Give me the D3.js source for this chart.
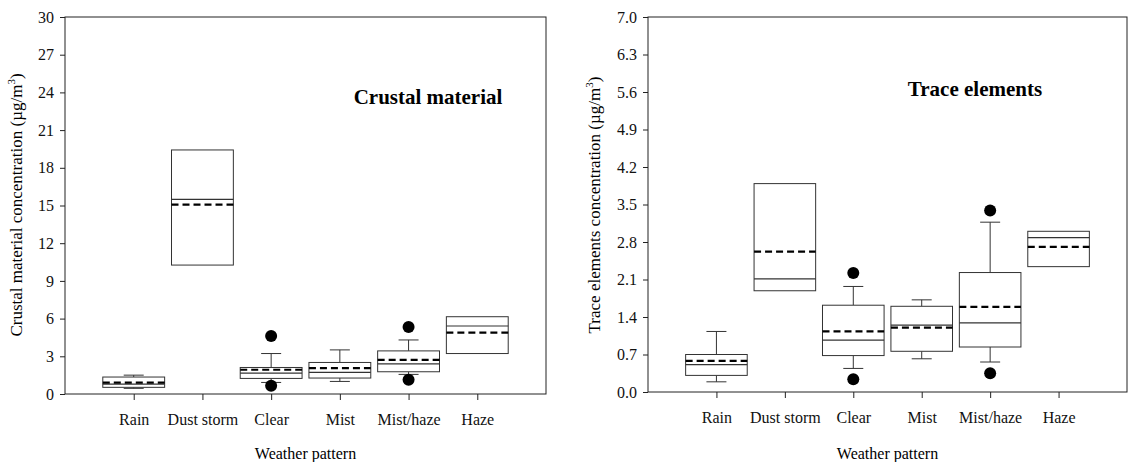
<!DOCTYPE html>
<html lang="en">
<meta charset="utf-8">
<style>
  body { margin: 0; background: #fff; }
  svg { display: block; font-family: "Liberation Serif", "Times New Roman", serif; }
  .frame { fill: none; stroke: #222; stroke-width: 1px; }
  .box { fill: #fff; stroke: #333; stroke-width: 1px; }
  .whisker { stroke: #333; stroke-width: 1px; }
  .median { stroke: #333; stroke-width: 1.2px; }
  .mean { stroke: #000; stroke-width: 2.2px; stroke-dasharray: 7,4; }
  .tick text { font-family: "Liberation Serif", "Times New Roman", serif; font-size: 16px; fill: #111; }
  .tick line { stroke: #222; }
</style>
<script src="https://d3js.org/d3.v7.min.js"></script>
<body>
<div id="chart"></div>
<script>
// weather patterns (x categories)
const categories = ["Rain", "Dust storm", "Clear", "Mist", "Mist/haze", "Haze"]

// crustal material, µg/m3 (null = no whisker drawn)
const crustalWhiskerLow  = [0.45, null, 0.92, 1.00, 1.56, null]
const crustalQ1          = [0.53, 10.26, 1.24, 1.27, 1.77, 3.22]
const crustalMedian      = [0.78, 15.49, 1.66, 1.72, 2.40, 5.41]
const crustalQ3          = [1.35, 19.42, 2.11, 2.51, 3.43, 6.15]
const crustalWhiskerHigh = [1.50, null, 3.22, 3.51, 4.30, null]
const crustalMean        = [0.90, 15.07, 1.93, 2.06, 2.72, 4.88]
const crustalOutliers    = [[], [], [4.62, 0.66], [], [5.33, 1.13], []]
const crustalTicks       = [0, 3, 6, 9, 12, 15, 18, 21, 24, 27, 30]

// trace elements, µg/m3
const traceWhiskerLow  = [0.19, null, 0.44, 0.62, 0.56, null]
const traceQ1          = [0.31, 1.89, 0.68, 0.76, 0.84, 2.34]
const traceMedian      = [0.51, 2.11, 0.97, 1.25, 1.29, 2.88]
const traceQ3          = [0.70, 3.89, 1.62, 1.60, 2.23, 3.00]
const traceWhiskerHigh = [1.13, null, 1.97, 1.72, 3.17, null]
const traceMean        = [0.58, 2.62, 1.13, 1.20, 1.59, 2.71]
const traceOutliers    = [[], [], [2.22, 0.24], [], [3.39, 0.35], []]
const traceTicks       = [0, 0.7, 1.4, 2.1, 2.8, 3.5, 4.2, 4.9, 5.6, 6.3, 7.0]

const WIDTH = 1129
const HEIGHT = 462

const svg = d3.select("#chart").append("svg")
  .attr("width", WIDTH)
  .attr("height", HEIGHT)

function toRows(lo, q1, med, q3, hi, mean, out) {
  return categories.map((c, i) => ({
    cat: c, lo: lo[i], q1: q1[i], med: med[i], q3: q3[i], hi: hi[i], mean: mean[i], out: out[i]
  }))
}

function drawPanel(cfg) {
  const w = cfg.right - cfg.left
  const h = cfg.bottom - cfg.top
  const g = svg.append("g").attr("transform", `translate(${cfg.left}, ${cfg.top})`)

  const x = d3.scalePoint().domain(categories).range([0, w]).padding(1)
  const y = d3.scaleLinear().domain([cfg.ticks[0], cfg.ticks[cfg.ticks.length - 1]]).range([h, 0])
  const bw = x.step() * 0.9
  const cap = 10

  // axes
  g.append("g")
    .call(d3.axisLeft(y).tickValues(cfg.ticks).tickSize(5).tickPadding(6).tickFormat(cfg.format))
    .call(a => a.select(".domain").remove())
  g.append("g")
    .attr("transform", `translate(0, ${h})`)
    .call(d3.axisBottom(x).tickSize(6).tickPadding(14))
    .call(a => a.select(".domain").remove())

  g.append("rect").attr("class", "frame").attr("width", w).attr("height", h)

  const box = g.selectAll(".bp").data(cfg.rows).join("g")
    .attr("class", "bp")
    .attr("transform", d => `translate(${x(d.cat)}, 0)`)

  // whiskers
  box.filter(d => d.hi != null).each(function (d) {
    const s = d3.select(this)
    s.append("line").attr("class", "whisker").attr("y1", y(d.q3)).attr("y2", y(d.hi))
    s.append("line").attr("class", "whisker").attr("x1", -cap).attr("x2", cap).attr("y1", y(d.hi)).attr("y2", y(d.hi))
    s.append("line").attr("class", "whisker").attr("y1", y(d.q1)).attr("y2", y(d.lo))
    s.append("line").attr("class", "whisker").attr("x1", -cap).attr("x2", cap).attr("y1", y(d.lo)).attr("y2", y(d.lo))
  })

  box.append("rect").attr("class", "box")
    .attr("x", -bw / 2).attr("width", bw)
    .attr("y", d => y(d.q3)).attr("height", d => y(d.q1) - y(d.q3))

  box.append("line").attr("class", "median")
    .attr("x1", -bw / 2).attr("x2", bw / 2)
    .attr("y1", d => y(d.med)).attr("y2", d => y(d.med))

  box.append("line").attr("class", "mean")
    .attr("x1", -bw / 2).attr("x2", bw / 2)
    .attr("y1", d => y(d.mean)).attr("y2", d => y(d.mean))

  box.selectAll("circle").data(d => d.out).join("circle")
    .attr("r", 6).attr("cy", v => y(v)).attr("fill", "#000")

  // labels
  g.append("text")
    .attr("x", cfg.titleX - cfg.left).attr("y", cfg.titleY - cfg.top)
    .attr("text-anchor", "middle")
    .style("font-size", "21px").style("font-weight", "bold")
    .text(cfg.title)

  g.append("text")
    .attr("x", w / 2).attr("y", 459 - cfg.top)
    .attr("text-anchor", "middle")
    .style("font-size", "16px")
    .text("Weather pattern")

  const yl = svg.append("text")
    .attr("transform", `translate(${cfg.ylabX}, ${205}) rotate(-90)`)
    .attr("text-anchor", "middle")
    .style("font-size", "17px")
  yl.append("tspan").text(cfg.ylabel + " (µg/m")
  yl.append("tspan").attr("dy", -7).style("font-size", "11px").text("3")
  yl.append("tspan").attr("dy", 7).text(")")
}

drawPanel({
  left: 65, top: 17, right: 546, bottom: 394,
  ticks: crustalTicks, format: d3.format("d"),
  rows: toRows(crustalWhiskerLow, crustalQ1, crustalMedian, crustalQ3, crustalWhiskerHigh, crustalMean, crustalOutliers),
  title: "Crustal material", titleX: 428, titleY: 104,
  ylabel: "Crustal material concentration", ylabX: 22
})

drawPanel({
  left: 648, top: 17, right: 1127, bottom: 392,
  ticks: traceTicks, format: d3.format(".1f"),
  rows: toRows(traceWhiskerLow, traceQ1, traceMedian, traceQ3, traceWhiskerHigh, traceMean, traceOutliers),
  title: "Trace elements", titleX: 975, titleY: 96,
  ylabel: "Trace elements concentration", ylabX: 600
})
</script>
</body>
</html>
